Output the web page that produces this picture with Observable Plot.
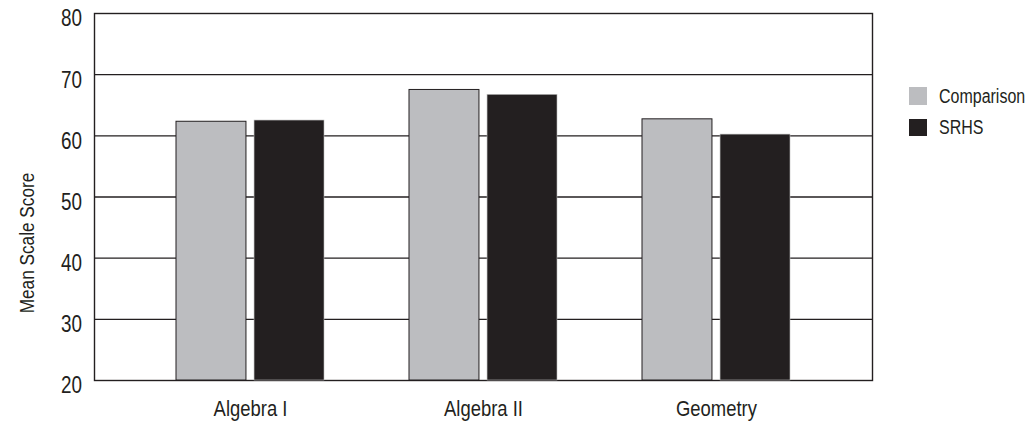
<!DOCTYPE html>
<html>
<head>
<meta charset="utf-8">
<script src="https://cdn.jsdelivr.net/npm/d3@7"></script>
<script src="https://cdn.jsdelivr.net/npm/@observablehq/plot@0.6"></script>
<style>
  html, body { margin: 0; padding: 0; background: #fff; }
  #wrap { position: relative; width: 1030px; height: 422px; font-family: "Liberation Sans", Arial, sans-serif; }
  #legend { position: absolute; left: 909px; top: 80.5px; color: #231f20; font-size: 19.5px; }
  .item { display: flex; align-items: center; height: 31.4px; white-space: nowrap; }
  .sw { width: 17.5px; height: 17.5px; margin-right: 12.6px; flex: none; }
  .item span { display: inline-block; transform: scaleX(0.82); transform-origin: left center; }
</style>
</head>
<body>
<div id="wrap"></div>
<script>
const categories = ["Algebra I", "Algebra II", "Geometry"];
const series = ["Comparison", "SRHS"];
const comparison = [62.3, 67.5, 62.7];
const srhs = [62.5, 66.7, 60.2];
const yTicks = [20, 30, 40, 50, 60, 70, 80];
const yLabel = "Mean Scale Score";
const colors = ["#bcbdc0", "#231f20"];

const rows = [];
categories.forEach((c, i) => {
  rows.push({category: c, series: "Comparison", value: comparison[i]});
  rows.push({category: c, series: "SRHS", value: srhs[i]});
});

const W = 1030, H = 422;
const mL = 94, mR = 158, mT = 13, mB = 42;
const pIn = 0.363, pOut = 0.348;
const step = (W - mL - mR) / (categories.length - pIn + 2 * pOut);
const band = step * (1 - pIn);
const gap = 3.7;

const chart = Plot.plot({
  width: W,
  height: H,
  marginLeft: mL,
  marginRight: mR,
  marginTop: mT,
  marginBottom: mB,
  style: {fontFamily: "'Liberation Sans', Arial, sans-serif", color: "#231f20", background: "#fff"},
  x: {domain: categories, paddingInner: pIn, paddingOuter: pOut, label: null},
  y: {domain: [20, 80], ticks: yTicks, label: null},
  marks: [
    Plot.ruleY(yTicks.slice(1, -1), {stroke: "#231f20", strokeWidth: 1.4}),
    Plot.frame({stroke: "#231f20", strokeWidth: 1.4}),
    Plot.barY(rows.filter(d => d.series === "Comparison"), {
      x: "category", y1: 20, y2: "value",
      fill: colors[0], stroke: "#231f20", strokeWidth: 1,
      insetRight: band / 2 + gap
    }),
    Plot.barY(rows.filter(d => d.series === "SRHS"), {
      x: "category", y1: 20, y2: "value",
      fill: colors[1], stroke: "#bbb", strokeWidth: 0.6,
      insetLeft: band / 2 + gap
    }),
    Plot.axisX({tickSize: 0, tickPadding: 20, fontSize: 22.5, label: null}),
    Plot.axisY({ticks: yTicks, tickSize: 0, tickPadding: 12.5, fontSize: 23, dy: 5.5, label: null}),
    Plot.text([yLabel], {
      frameAnchor: "left", text: d => d, rotate: -90, dx: -61, dy: 46,
      textAnchor: "middle", lineAnchor: "bottom", fontSize: 21, fill: "#231f20"
    })
  ]
});

// condense all texts horizontally (narrow face look)
chart.querySelectorAll("text").forEach(el => {
  const tr = el.getAttribute("transform");
  if (tr) {
    el.setAttribute("transform", tr + " scale(0.82,1)");
  } else {
    const x = el.getAttribute("x") || 0, y = el.getAttribute("y") || 0;
    el.removeAttribute("x"); el.removeAttribute("y");
    el.setAttribute("transform", `translate(${x},${y}) scale(0.82,1)`);
  }
});
document.getElementById("wrap").appendChild(chart);

const legend = document.createElement("div");
legend.id = "legend";
series.forEach((s, i) => {
  const it = document.createElement("div");
  it.className = "item";
  const sw = document.createElement("div");
  sw.className = "sw";
  sw.style.background = colors[i];
  const t = document.createElement("span");
  t.textContent = s;
  it.appendChild(sw); it.appendChild(t);
  legend.appendChild(it);
});
document.getElementById("wrap").appendChild(legend);
</script>
</body>
</html>
